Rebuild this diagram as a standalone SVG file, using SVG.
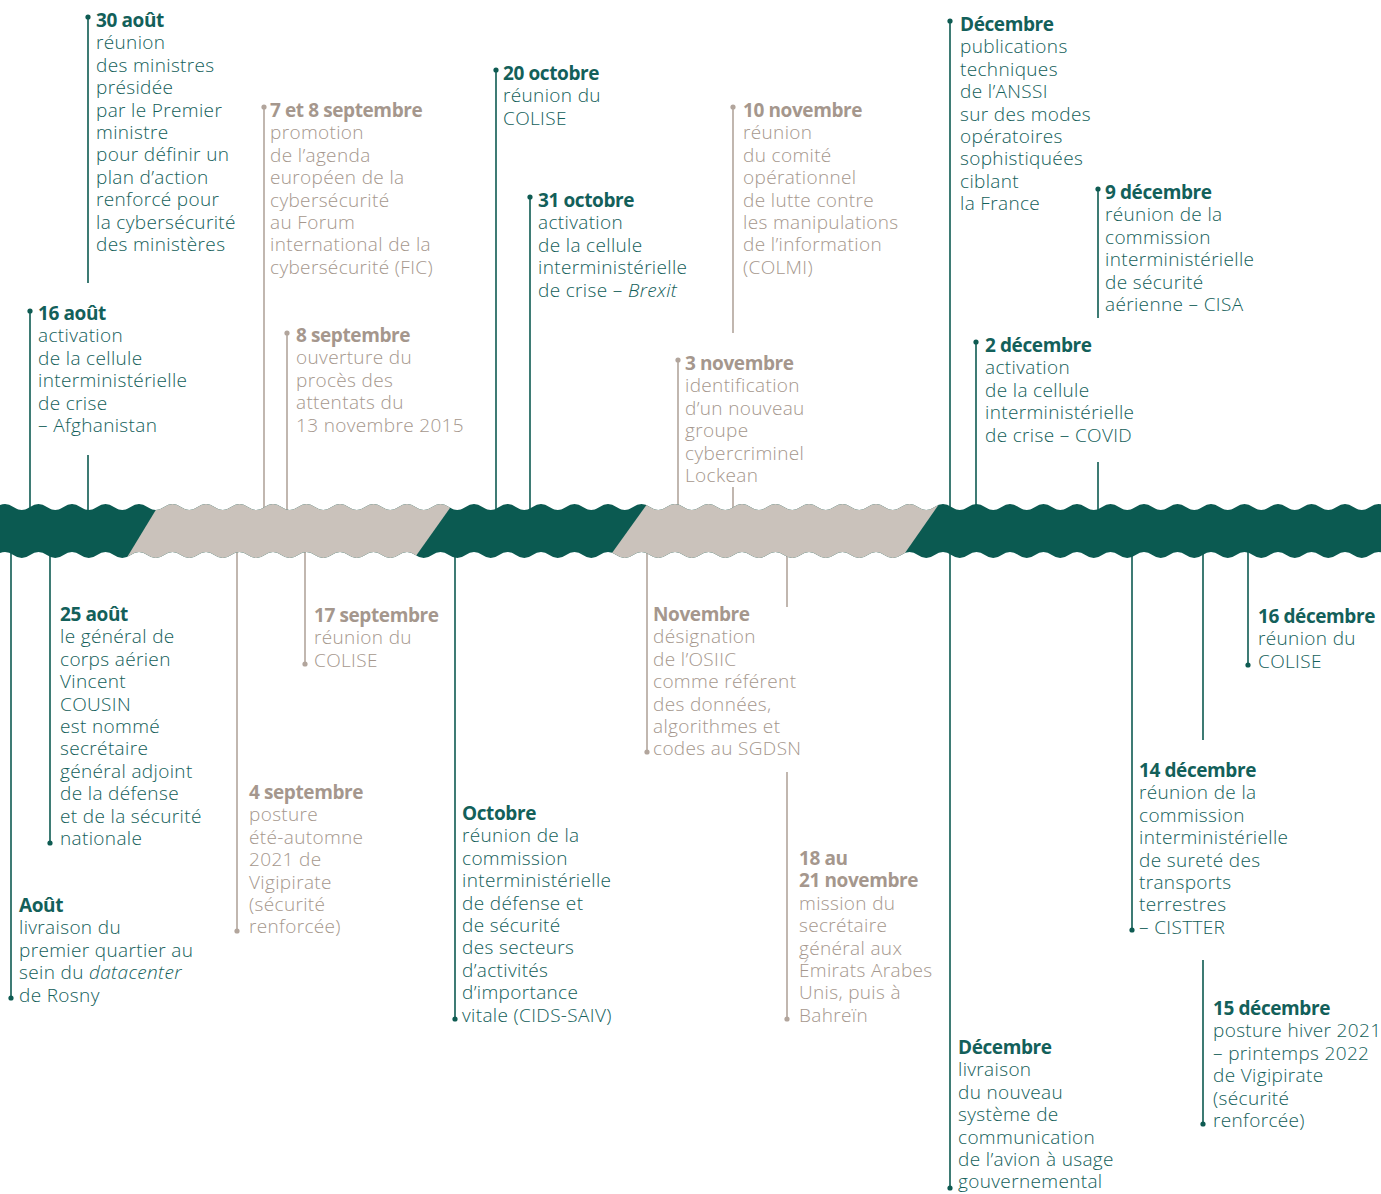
<svg xmlns="http://www.w3.org/2000/svg" width="1381" height="1194" viewBox="0 0 1381 1194">
<style>
text{font-family:"Open Sans","Liberation Sans",sans-serif;font-size:19px;font-weight:300;letter-spacing:0.35px}
.t{fill:#13605a}
.b{fill:#a5978d}
.h{font-weight:700;letter-spacing:-0.4px}
.i{font-style:italic}
.lt{stroke:#0e5b52;stroke-width:1.6;fill:none}
.lb{stroke:#b2a59c;stroke-width:1.6;fill:none}
.dt{fill:#0e5b52}
.db{fill:#b2a59c}
</style>
<defs>
<clipPath id="topwave">
<path d="M-3.375,507 q8.375,-6 16.75,0 t16.75,0 t16.75,0 t16.75,0 t16.75,0 t16.75,0 t16.75,0 t16.75,0 t16.75,0 t16.75,0 t16.75,0 t16.75,0 t16.75,0 t16.75,0 t16.75,0 t16.75,0 t16.75,0 t16.75,0 t16.75,0 t16.75,0 t16.75,0 t16.75,0 t16.75,0 t16.75,0 t16.75,0 t16.75,0 t16.75,0 t16.75,0 t16.75,0 t16.75,0 t16.75,0 t16.75,0 t16.75,0 t16.75,0 t16.75,0 t16.75,0 t16.75,0 t16.75,0 t16.75,0 t16.75,0 t16.75,0 t16.75,0 t16.75,0 t16.75,0 t16.75,0 t16.75,0 t16.75,0 t16.75,0 t16.75,0 t16.75,0 t16.75,0 t16.75,0 t16.75,0 t16.75,0 t16.75,0 t16.75,0 t16.75,0 t16.75,0 t16.75,0 t16.75,0 t16.75,0 t16.75,0 t16.75,0 t16.75,0 t16.75,0 t16.75,0 t16.75,0 t16.75,0 t16.75,0 t16.75,0 t16.75,0 t16.75,0 t16.75,0 t16.75,0 t16.75,0 t16.75,0 t16.75,0 t16.75,0 t16.75,0 t16.75,0 t16.75,0 t16.75,0 t16.75,0 t16.75,0 t16.75,0 L1500,507 L1500,620 L-20,620 L-20,507 Z"/>
</clipPath>
<clipPath id="botwave">
<path d="M-3.375,555 q8.375,-6 16.75,0 t16.75,0 t16.75,0 t16.75,0 t16.75,0 t16.75,0 t16.75,0 t16.75,0 t16.75,0 t16.75,0 t16.75,0 t16.75,0 t16.75,0 t16.75,0 t16.75,0 t16.75,0 t16.75,0 t16.75,0 t16.75,0 t16.75,0 t16.75,0 t16.75,0 t16.75,0 t16.75,0 t16.75,0 t16.75,0 t16.75,0 t16.75,0 t16.75,0 t16.75,0 t16.75,0 t16.75,0 t16.75,0 t16.75,0 t16.75,0 t16.75,0 t16.75,0 t16.75,0 t16.75,0 t16.75,0 t16.75,0 t16.75,0 t16.75,0 t16.75,0 t16.75,0 t16.75,0 t16.75,0 t16.75,0 t16.75,0 t16.75,0 t16.75,0 t16.75,0 t16.75,0 t16.75,0 t16.75,0 t16.75,0 t16.75,0 t16.75,0 t16.75,0 t16.75,0 t16.75,0 t16.75,0 t16.75,0 t16.75,0 t16.75,0 t16.75,0 t16.75,0 t16.75,0 t16.75,0 t16.75,0 t16.75,0 t16.75,0 t16.75,0 t16.75,0 t16.75,0 t16.75,0 t16.75,0 t16.75,0 t16.75,0 t16.75,0 t16.75,0 t16.75,0 t16.75,0 t16.75,0 L1500,555 L1500,440 L-20,440 L-20,555 Z"/>
</clipPath>
</defs>
<rect width="1381" height="1194" fill="#ffffff"/>

<g id="connectors">
<path class="lt" d="M88,17V283 M88,455V510"/>
<path class="lt" d="M30,311V510"/>
<path class="lb" d="M264,107V510"/>
<path class="lb" d="M287,333V510"/>
<path class="lt" d="M496,70V510"/>
<path class="lt" d="M530,197V510"/>
<path class="lb" d="M733,107V333 M733,487V510"/>
<path class="lb" d="M678,360V510"/>
<path class="lt" d="M950,21V510"/>
<path class="lt" d="M1098,189V318 M1098,462V510"/>
<path class="lt" d="M976,342V510"/>
<path class="lt" d="M11,550V998"/>
<path class="lt" d="M50,550V843"/>
<path class="lb" d="M237,550V931"/>
<path class="lb" d="M305,550V664"/>
<path class="lt" d="M455,550V1019"/>
<path class="lb" d="M647,550V752"/>
<path class="lb" d="M787,550V607 M787,772V1019"/>
<path class="lt" d="M950,550V1188"/>
<path class="lt" d="M1132,550V930"/>
<path class="lt" d="M1203,550V740 M1203,960V1124"/>
<path class="lt" d="M1248,550V665"/>
<circle class="dt" cx="88" cy="17" r="2.6"/>
<circle class="dt" cx="30" cy="311" r="2.6"/>
<circle class="db" cx="264" cy="107" r="2.6"/>
<circle class="db" cx="287" cy="333" r="2.6"/>
<circle class="dt" cx="496" cy="70" r="2.6"/>
<circle class="dt" cx="530" cy="197" r="2.6"/>
<circle class="db" cx="733" cy="107" r="2.6"/>
<circle class="db" cx="678" cy="360" r="2.6"/>
<circle class="dt" cx="950" cy="21" r="2.6"/>
<circle class="dt" cx="1098" cy="189" r="2.6"/>
<circle class="dt" cx="976" cy="342" r="2.6"/>
<circle class="dt" cx="11" cy="998" r="2.6"/>
<circle class="dt" cx="50" cy="843" r="2.6"/>
<circle class="db" cx="237" cy="931" r="2.6"/>
<circle class="db" cx="305" cy="664" r="2.6"/>
<circle class="dt" cx="455" cy="1019" r="2.6"/>
<circle class="db" cx="647" cy="752" r="2.6"/>
<circle class="db" cx="787" cy="1019" r="2.6"/>
<circle class="dt" cx="950" cy="1188" r="2.6"/>
<circle class="dt" cx="1132" cy="930" r="2.6"/>
<circle class="dt" cx="1203" cy="1124" r="2.6"/>
<circle class="dt" cx="1248" cy="665" r="2.6"/>
</g>

<g id="timeline-band" clip-path="url(#botwave)">
<g clip-path="url(#topwave)">
<rect x="-10" y="490" width="1401" height="80" fill="#0b5a51"/>
<polygon points="164.9,495 459.2,495 409.5,565 122.4,565" fill="#cac2bb"/>
<polygon points="653.6,495 945.4,495 896.6,565 603.4,565" fill="#cac2bb"/>
</g>
</g>

<g id="n-30aout"><text class="t" x="96" y="27"><tspan class="h">30 août</tspan><tspan x="96" dy="22.4">réunion</tspan><tspan x="96" dy="22.4">des ministres</tspan><tspan x="96" dy="22.4">présidée</tspan><tspan x="96" dy="22.4">par le Premier</tspan><tspan x="96" dy="22.4">ministre</tspan><tspan x="96" dy="22.4">pour définir un</tspan><tspan x="96" dy="22.4">plan d’action</tspan><tspan x="96" dy="22.4">renforcé pour</tspan><tspan x="96" dy="22.4">la cybersécurité</tspan><tspan x="96" dy="22.4">des ministères</tspan></text></g>

<g id="n-16aout"><text class="t" x="38" y="320"><tspan class="h">16 août</tspan><tspan x="38" dy="22.4">activation</tspan><tspan x="38" dy="22.4">de la cellule</tspan><tspan x="38" dy="22.4">interministérielle</tspan><tspan x="38" dy="22.4">de crise</tspan><tspan x="38" dy="22.4">– Afghanistan</tspan></text></g>

<g id="n-7-8sept"><text class="b" x="270" y="117"><tspan class="h">7 et 8 septembre</tspan><tspan x="270" dy="22.4">promotion</tspan><tspan x="270" dy="22.4">de l’agenda</tspan><tspan x="270" dy="22.4">européen de la</tspan><tspan x="270" dy="22.4">cybersécurité</tspan><tspan x="270" dy="22.4">au Forum</tspan><tspan x="270" dy="22.4">international de la</tspan><tspan x="270" dy="22.4">cybersécurité (FIC)</tspan></text></g>

<g id="n-8sept"><text class="b" x="296" y="342"><tspan class="h">8 septembre</tspan><tspan x="296" dy="22.4">ouverture du</tspan><tspan x="296" dy="22.4">procès des</tspan><tspan x="296" dy="22.4">attentats du</tspan><tspan x="296" dy="22.4">13 novembre 2015</tspan></text></g>

<g id="n-20oct"><text class="t" x="503" y="80"><tspan class="h">20 octobre</tspan><tspan x="503" dy="22.4">réunion du</tspan><tspan x="503" dy="22.4">COLISE</tspan></text></g>

<g id="n-31oct"><text class="t" x="538" y="207"><tspan class="h">31 octobre</tspan><tspan x="538" dy="22.4">activation</tspan><tspan x="538" dy="22.4">de la cellule</tspan><tspan x="538" dy="22.4">interministérielle</tspan><tspan x="538" dy="22.4">de crise – <tspan class="i">Brexit</tspan></tspan></text></g>

<g id="n-10nov"><text class="b" x="743" y="117"><tspan class="h">10 novembre</tspan><tspan x="743" dy="22.4">réunion</tspan><tspan x="743" dy="22.4">du comité</tspan><tspan x="743" dy="22.4">opérationnel</tspan><tspan x="743" dy="22.4">de lutte contre</tspan><tspan x="743" dy="22.4">les manipulations</tspan><tspan x="743" dy="22.4">de l’information</tspan><tspan x="743" dy="22.4">(COLMI)</tspan></text></g>

<g id="n-3nov"><text class="b" x="685" y="370"><tspan class="h">3 novembre</tspan><tspan x="685" dy="22.4">identification</tspan><tspan x="685" dy="22.4">d’un nouveau</tspan><tspan x="685" dy="22.4">groupe</tspan><tspan x="685" dy="22.4">cybercriminel</tspan><tspan x="685" dy="22.4">Lockean</tspan></text></g>

<g id="n-dec-top"><text class="t" x="960" y="31"><tspan class="h">Décembre</tspan><tspan x="960" dy="22.4">publications</tspan><tspan x="960" dy="22.4">techniques</tspan><tspan x="960" dy="22.4">de l’ANSSI</tspan><tspan x="960" dy="22.4">sur des modes</tspan><tspan x="960" dy="22.4">opératoires</tspan><tspan x="960" dy="22.4">sophistiquées</tspan><tspan x="960" dy="22.4">ciblant</tspan><tspan x="960" dy="22.4">la France</tspan></text></g>

<g id="n-9dec"><text class="t" x="1105" y="199"><tspan class="h">9 décembre</tspan><tspan x="1105" dy="22.4">réunion de la</tspan><tspan x="1105" dy="22.4">commission</tspan><tspan x="1105" dy="22.4">interministérielle</tspan><tspan x="1105" dy="22.4">de sécurité</tspan><tspan x="1105" dy="22.4">aérienne – CISA</tspan></text></g>

<g id="n-2dec"><text class="t" x="985" y="352"><tspan class="h">2 décembre</tspan><tspan x="985" dy="22.4">activation</tspan><tspan x="985" dy="22.4">de la cellule</tspan><tspan x="985" dy="22.4">interministérielle</tspan><tspan x="985" dy="22.4">de crise – COVID</tspan></text></g>

<g id="n-25aout"><text class="t" x="60" y="621"><tspan class="h">25 août</tspan><tspan x="60" dy="22.4">le général de</tspan><tspan x="60" dy="22.4">corps aérien</tspan><tspan x="60" dy="22.4">Vincent</tspan><tspan x="60" dy="22.4">COUSIN</tspan><tspan x="60" dy="22.4">est nommé</tspan><tspan x="60" dy="22.4">secrétaire</tspan><tspan x="60" dy="22.4">général adjoint</tspan><tspan x="60" dy="22.4">de la défense</tspan><tspan x="60" dy="22.4">et de la sécurité</tspan><tspan x="60" dy="22.4">nationale</tspan></text></g>

<g id="n-aout"><text class="t" x="19" y="912"><tspan class="h">Août</tspan><tspan x="19" dy="22.4">livraison du</tspan><tspan x="19" dy="22.4">premier quartier au</tspan><tspan x="19" dy="22.4">sein du <tspan class="i">datacenter</tspan></tspan><tspan x="19" dy="22.4">de Rosny</tspan></text></g>

<g id="n-4sept"><text class="b" x="249" y="799"><tspan class="h">4 septembre</tspan><tspan x="249" dy="22.4">posture</tspan><tspan x="249" dy="22.4">été-automne</tspan><tspan x="249" dy="22.4">2021 de</tspan><tspan x="249" dy="22.4">Vigipirate</tspan><tspan x="249" dy="22.4">(sécurité</tspan><tspan x="249" dy="22.4">renforcée)</tspan></text></g>

<g id="n-17sept"><text class="b" x="314" y="622"><tspan class="h">17 septembre</tspan><tspan x="314" dy="22.4">réunion du</tspan><tspan x="314" dy="22.4">COLISE</tspan></text></g>

<g id="n-octobre"><text class="t" x="462" y="820"><tspan class="h">Octobre</tspan><tspan x="462" dy="22.4">réunion de la</tspan><tspan x="462" dy="22.4">commission</tspan><tspan x="462" dy="22.4">interministérielle</tspan><tspan x="462" dy="22.4">de défense et</tspan><tspan x="462" dy="22.4">de sécurité</tspan><tspan x="462" dy="22.4">des secteurs</tspan><tspan x="462" dy="22.4">d’activités</tspan><tspan x="462" dy="22.4">d’importance</tspan><tspan x="462" dy="22.4">vitale (CIDS-SAIV)</tspan></text></g>

<g id="n-novembre"><text class="b" x="653" y="621"><tspan class="h">Novembre</tspan><tspan x="653" dy="22.4">désignation</tspan><tspan x="653" dy="22.4">de l’OSIIC</tspan><tspan x="653" dy="22.4">comme référent</tspan><tspan x="653" dy="22.4">des données,</tspan><tspan x="653" dy="22.4">algorithmes et</tspan><tspan x="653" dy="22.4">codes au SGDSN</tspan></text></g>

<g id="n-18-21nov"><text class="b" x="799" y="865"><tspan class="h">18 au</tspan><tspan class="h" x="799" dy="22.4">21 novembre</tspan><tspan x="799" dy="22.4">mission du</tspan><tspan x="799" dy="22.4">secrétaire</tspan><tspan x="799" dy="22.4">général aux</tspan><tspan x="799" dy="22.4">Émirats Arabes</tspan><tspan x="799" dy="22.4">Unis, puis à</tspan><tspan x="799" dy="22.4">Bahreïn</tspan></text></g>

<g id="n-dec-bottom"><text class="t" x="958" y="1054"><tspan class="h">Décembre</tspan><tspan x="958" dy="22.4">livraison</tspan><tspan x="958" dy="22.4">du nouveau</tspan><tspan x="958" dy="22.4">système de</tspan><tspan x="958" dy="22.4">communication</tspan><tspan x="958" dy="22.4">de l’avion à usage</tspan><tspan x="958" dy="22.4">gouvernemental</tspan></text></g>

<g id="n-14dec"><text class="t" x="1139" y="777"><tspan class="h">14 décembre</tspan><tspan x="1139" dy="22.4">réunion de la</tspan><tspan x="1139" dy="22.4">commission</tspan><tspan x="1139" dy="22.4">interministérielle</tspan><tspan x="1139" dy="22.4">de sureté des</tspan><tspan x="1139" dy="22.4">transports</tspan><tspan x="1139" dy="22.4">terrestres</tspan><tspan x="1139" dy="22.4">– CISTTER</tspan></text></g>

<g id="n-15dec"><text class="t" x="1213" y="1015"><tspan class="h">15 décembre</tspan><tspan x="1213" dy="22.4">posture hiver 2021</tspan><tspan x="1213" dy="22.4">– printemps 2022</tspan><tspan x="1213" dy="22.4">de Vigipirate</tspan><tspan x="1213" dy="22.4">(sécurité</tspan><tspan x="1213" dy="22.4">renforcée)</tspan></text></g>

<g id="n-16dec"><text class="t" x="1258" y="623"><tspan class="h">16 décembre</tspan><tspan x="1258" dy="22.4">réunion du</tspan><tspan x="1258" dy="22.4">COLISE</tspan></text></g>
</svg>
